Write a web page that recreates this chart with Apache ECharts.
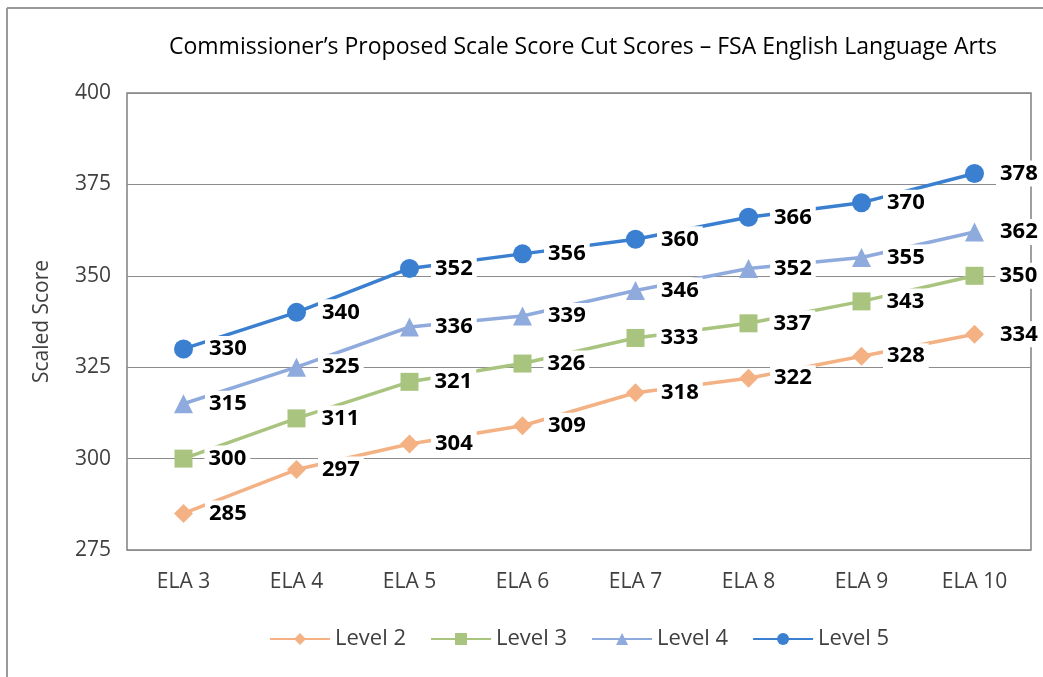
<!DOCTYPE html>
<html>
<head>
<meta charset="utf-8">
<script src="https://cdn.jsdelivr.net/npm/echarts@6/dist/echarts.min.js"></script>
<style>
html, body { margin: 0; padding: 0; background: #fff; }
#main { width: 1043px; height: 677px; }
</style>
</head>
<body>
<div id="main"></div>
<script>
var dom = document.getElementById("main");
var myChart = echarts.init(dom);

var categories = ['ELA 3', 'ELA 4', 'ELA 5', 'ELA 6', 'ELA 7', 'ELA 8', 'ELA 9', 'ELA 10'];
var level2 = [285, 297, 304, 309, 318, 322, 328, 334];
var level3 = [300, 311, 321, 326, 333, 337, 343, 350];
var level4 = [315, 325, 336, 339, 346, 352, 355, 362];
var level5 = [330, 340, 352, 356, 360, 366, 370, 378];

var font = "'Open Sans', 'Noto Sans', sans-serif";

function makeSeries(name, data, color, symbol, size) {
    return {
        name: name,
        type: 'line',
        data: data,
        symbol: symbol,
        symbolSize: size,
        lineStyle: { color: color, width: 3.5 },
        itemStyle: { color: color },
        label: {
            show: true,
            position: 'right',
            distance: 12,
            color: '#000',
            fontWeight: 'bold',
            fontSize: 22,
            fontFamily: font,
            backgroundColor: '#fff',
            padding: [2, 4]
        }
    };
}

option = {
    animation: false,
    backgroundColor: '#fff',
    title: {
        text: 'Commissioner\u2019s Proposed Scale Score Cut Scores \u2013 FSA English Language Arts',
        left: 578,
        textAlign: 'center',
        top: 31,
        textStyle: { fontSize: 23, fontWeight: 'normal', color: '#000', fontFamily: font }
    },
    legend: {
        bottom: 22,
        left: 264,
        itemWidth: 60,
        itemHeight: 15,
        itemGap: 24,
        textStyle: { fontSize: 22, color: '#404040', fontFamily: font },
        data: ['Level 2', 'Level 3', 'Level 4', 'Level 5']
    },
    grid: {
        left: 127,
        right: 12,
        top: 93,
        bottom: 127,
        show: true,
        borderColor: '#808080',
        borderWidth: 1.5
    },
    xAxis: {
        type: 'category',
        data: categories,
        axisLine: { show: false },
        axisTick: { show: false },
        axisLabel: { fontSize: 21, color: '#404040', margin: 22, fontFamily: font }
    },
    yAxis: {
        type: 'value',
        min: 275,
        max: 400,
        interval: 25,
        name: 'Scaled Score',
        nameLocation: 'middle',
        nameGap: 74,
        nameTextStyle: { fontSize: 21, color: '#404040', fontFamily: font },
        axisLine: { show: false },
        axisTick: { show: false },
        axisLabel: { fontSize: 21, color: '#404040', margin: 16, fontFamily: font },
        splitLine: { lineStyle: { color: '#8c8c8c', width: 1 } }
    },
    graphic: [
        { type: 'line', shape: { x1: 7, y1: 8, x2: 7, y2: 677 }, style: { stroke: '#999', lineWidth: 2 } },
        { type: 'line', shape: { x1: 7, y1: 8, x2: 1043, y2: 8 }, style: { stroke: '#999', lineWidth: 2 } }
    ],
    series: [
        makeSeries('Level 2', level2, '#f4b183', 'diamond', 19),
        makeSeries('Level 3', level3, '#a9c47f', 'rect', 18),
        makeSeries('Level 4', level4, '#8faadc', 'triangle', 19),
        makeSeries('Level 5', level5, '#3a7fd0', 'circle', 19)
    ]
};
if (option && typeof option === "object") {
    myChart.setOption(option, true);
}
</script>
</body>
</html>
